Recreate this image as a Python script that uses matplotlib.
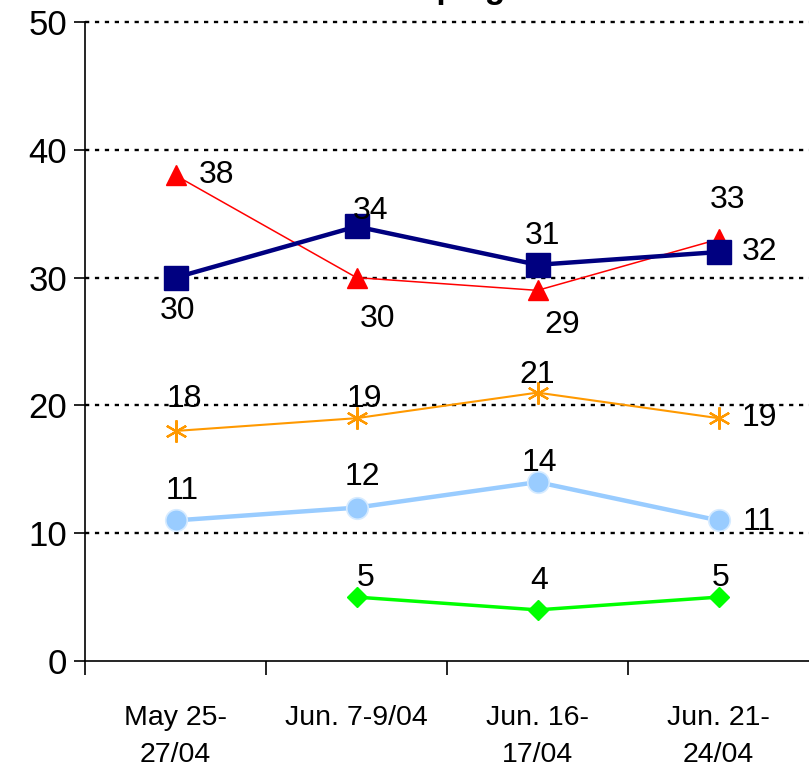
import numpy as np
import matplotlib
matplotlib.use("Agg")
import matplotlib.pyplot as plt

# _________________________________________________________________
# data
periods = ["May 25-\n27/04", "Jun. 7-9/04", "Jun. 16-\n17/04", "Jun. 21-\n24/04"]

red_vals = [38, 30, 29, 33]
navy_vals = [30, 34, 31, 32]
orange_vals = [18, 19, 21, 19]
lightblue_vals = [11, 12, 14, 11]
green_vals = [np.nan, 5, 4, 5]

title_text = "Campaign"
# _________________________________________________________________

# label offsets in pixels (dx right, dy up) for each point
red_offsets = [(41, 0), (21, -41), (25, -35), (9, 39)]
navy_offsets = [(2, -33), (14, 15), (5, 29), (41, 0)]
orange_offsets = [(9, 32), (8, 19), (0, 18), (41, 0)]
lightblue_offsets = [(7, 29), (6, 31), (2, 19), (41, -2)]
green_offsets = [(0, 0), (9, 19), (2, 29), (2, 19)]

tick_font = ["Liberation Sans", "DejaVu Sans"]
label_font = ["Liberation Sans", "DejaVu Sans"]

W, H = 809, 767
fig = plt.figure(figsize=(W / 100, H / 100), dpi=100)
ax = fig.add_axes([85 / W, (H - 661) / H, 724 / W, (661 - 22) / H])

x = np.arange(len(periods))

series = [
    (lightblue_vals, lightblue_offsets, dict(color="#99CCFF", lw=3.2, marker="o", ms=15.5,
                                             mfc="#99CCFF", mec="#D6EBFF", mew=1.2)),
    (green_vals, green_offsets, dict(color="#00FF00", lw=2.5, marker="D", ms=10,
                                     mfc="#00FF00", mec="#00FF00")),
    (orange_vals, orange_offsets, dict(color="#FF9900", lw=1.5, marker=(6, 2, 0), ms=16,
                                       mec="#FF9900", mew=1.6)),
    (red_vals, red_offsets, dict(color="#FF0000", lw=1.1, marker="^", ms=15,
                                 mfc="#FF0000", mec="#FF0000")),
    (navy_vals, navy_offsets, dict(color="#000080", lw=3.2, marker="s", ms=17,
                                   mfc="#000080", mec="#000080")),
]

for vals, offs, style in series:
    ax.plot(x, vals, clip_on=False, zorder=3, **style)
    for xi, v, (dx, dy) in zip(x, vals, offs):
        if np.isnan(v):
            continue
        ax.annotate(f"{v:g}", (xi, v), xytext=(dx * 0.72, dy * 0.72),
                    textcoords="offset points", ha="center", va="center",
                    fontsize=23, family=label_font, color="black",
                    annotation_clip=False, zorder=4)

ax.set_xlim(-0.5, len(periods) - 0.5)
ax.set_ylim(0, 50)
ax.set_yticks(np.arange(0, 51, 10))
ax.set_yticklabels([str(v) for v in range(0, 51, 10)], family=tick_font, fontsize=25)
ax.tick_params(axis="y", direction="out", length=8, width=1.2, pad=5)

ax.set_xticks(x)
ax.set_xticklabels(periods, family=tick_font, fontsize=20.5, linespacing=1.55, va="top")
ax.set_xticks(np.arange(-0.5, len(periods) - 0.5, 1.0), minor=True)
ax.tick_params(axis="x", which="major", length=0, pad=32)
ax.tick_params(axis="x", which="minor", direction="out", length=10, width=1.2)

for v in range(10, 51, 10):
    ax.axhline(v, color="black", lw=1.7, ls=(0, (1.8, 2.4)), zorder=1, clip_on=False)

for side in ["top", "right"]:
    ax.spines[side].set_visible(False)
for side in ["left", "bottom"]:
    ax.spines[side].set_linewidth(1.2)
    ax.spines[side].set_color("black")

# title sits mostly above the visible area, only descenders show
fig.text(0.55, 1 + 2 / H, title_text, ha="center", va="baseline",
         fontsize=24, fontweight="bold", family=label_font)

fig.savefig("out.png", dpi=100)
